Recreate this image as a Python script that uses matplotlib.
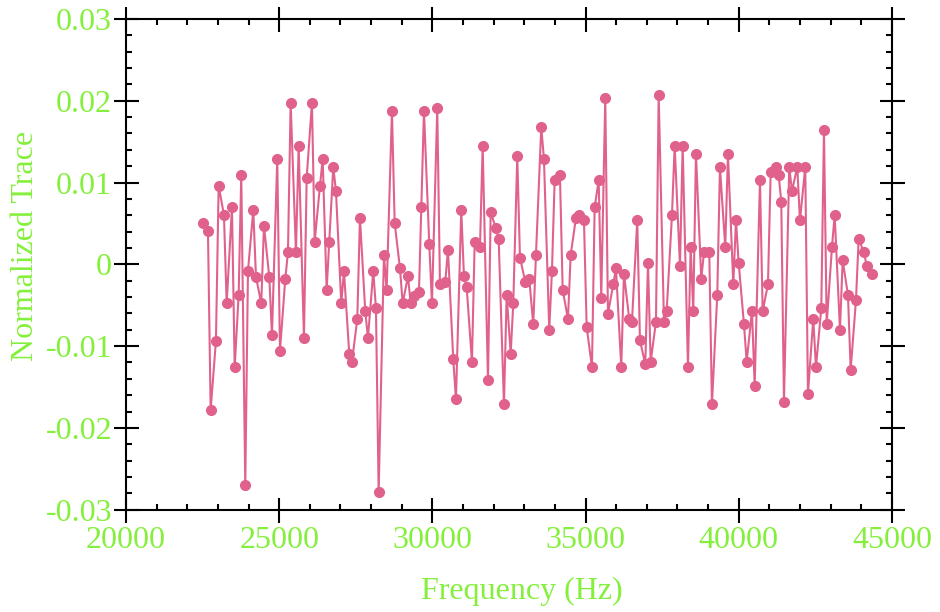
import matplotlib
matplotlib.use('Agg')
import matplotlib.pyplot as plt
from matplotlib.ticker import MultipleLocator, FuncFormatter

# frequencies (Hz) and normalized trace values
freq = [22503, 22676, 22764, 22937, 23025, 23198, 23287, 23460, 23548, 23678,
        23763, 23894, 23982, 24155, 24243, 24416, 24504, 24677, 24765, 24938,
        25026, 25199, 25287, 25375, 25548, 25636, 25809, 25898, 26070, 26159,
        26332, 26420, 26550, 26635, 26766, 26854, 27027, 27115, 27288, 27376,
        27549, 27637, 27810, 27898, 28071, 28159, 28247, 28420, 28508, 28681,
        28770, 28943, 29031, 29204, 29292, 29416, 29563, 29638, 29726, 29899,
        29987, 30160, 30248, 30421, 30509, 30682, 30770, 30943, 31031, 31120,
        31292, 31381, 31554, 31642, 31815, 31903, 32076, 32164, 32337, 32425,
        32556, 32641, 32771, 32859, 33032, 33163, 33293, 33381, 33554, 33642,
        33815, 33903, 33991, 34164, 34253, 34426, 34514, 34687, 34775, 34948,
        35036, 35209, 35297, 35428, 35512, 35643, 35731, 35904, 35992, 36165,
        36253, 36426, 36514, 36687, 36775, 36949, 37037, 37125, 37298, 37386,
        37559, 37647, 37820, 37908, 38081, 38169, 38342, 38430, 38515, 38603,
        38776, 38864, 39037, 39125, 39298, 39386, 39559, 39647, 39821, 39909,
        39997, 40170, 40258, 40431, 40519, 40692, 40780, 40953, 41041, 41214,
        41302, 41387, 41475, 41648, 41736, 41909, 41997, 42170, 42258, 42431,
        42520, 42693, 42781, 42869, 43042, 43130, 43303, 43391, 43564, 43652,
        43825, 43913, 44086, 44174, 44347]

trace = [0.00509, 0.00407, -0.01781, -0.00934, 0.00961, 0.00603, -0.00477, 0.00697, -0.01259, -0.00375,
         0.01092, -0.02694, -0.00082, 0.00664, -0.00152, -0.00477, 0.00472, -0.00152, -0.00864, 0.01287,
         -0.01064, -0.00180, 0.00147, 0.01972, 0.00147, 0.01446, -0.00901, 0.01059, 0.01972, 0.00276,
         0.00961, 0.01287, -0.00311, 0.00276, 0.01189, 0.00896, -0.00477, -0.00082, -0.01097, -0.01194,
         -0.00672, 0.00570, -0.00575, -0.00901, -0.00082, -0.00538, -0.02787, 0.00114, -0.00311, 0.01874,
         0.00505, -0.00049, -0.00477, -0.00147, -0.00477, -0.00388, -0.00333, 0.00700, 0.01874, 0.00245,
         -0.00477, 0.01907, -0.00245, -0.00213, 0.00178, -0.01161, -0.01650, 0.00667, -0.00147, -0.00281,
         -0.01191, 0.00276, 0.00211, 0.01450, -0.01418, 0.00636, 0.00440, 0.00309, -0.01712, -0.00375,
         -0.01093, -0.00477, 0.01320, 0.00081, -0.00213, -0.00180, -0.00734, 0.00114, 0.01678, 0.01287,
         -0.00800, -0.00082, 0.01027, 0.01092, -0.00311, -0.00669, 0.00114, 0.00570, 0.00603, 0.00538,
         -0.00767, -0.01256, 0.00700, 0.01027, -0.00408, 0.02037, -0.00604, -0.00245, -0.00049, -0.01256,
         -0.00115, -0.00669, -0.00702, 0.00538, -0.00929, -0.01223, 0.00016, -0.01191, -0.00702, 0.02070,
         -0.00702, -0.00571, 0.00603, 0.01450, -0.00017, 0.01450, -0.01256, 0.00211, -0.00571, 0.01352,
         -0.00180, 0.00147, 0.00147, -0.01712, -0.00375, 0.01189, 0.00211, 0.01352, -0.00245, 0.00538,
         0.00016, -0.00734, -0.01191, -0.00571, -0.01484, 0.01027, -0.00571, -0.00245, 0.01125, 0.01189,
         0.01092, 0.00765, -0.01680, 0.01189, 0.00896, 0.01189, 0.00538, 0.01189, -0.01582, -0.00669,
         -0.01256, -0.00538, 0.01645, -0.00734, 0.00211, 0.00603, -0.00800, 0.00049, -0.00375, -0.01289,
         -0.00440, 0.00309, 0.00147, -0.00017, -0.00115]

pink = '#e0628c'
green = '#84f03c'

plt.rcParams['font.family'] = ['Liberation Serif', 'DejaVu Serif']
plt.rcParams['axes.unicode_minus'] = False

fig = plt.figure(figsize=(9.4, 6.12), dpi=100)
ax = fig.add_axes([0.1340, 0.1672, 0.8149, 0.8018])

ax.plot(freq, trace, color=pink, lw=1.5, marker='o', ms=7, mec=pink, mfc=pink)

ax.set_xlim(20000, 45000)
ax.set_ylim(-0.03, 0.03)
ax.xaxis.set_major_locator(MultipleLocator(5000))
ax.xaxis.set_minor_locator(MultipleLocator(1000))
ax.yaxis.set_major_locator(MultipleLocator(0.01))
ax.yaxis.set_minor_locator(MultipleLocator(0.002))
ax.yaxis.set_major_formatter(FuncFormatter(lambda v, p: '0' if abs(v) < 1e-9 else '%.2f' % v))
ax.xaxis.set_major_formatter(FuncFormatter(lambda v, p: '%d' % v))

for s in ax.spines.values():
    s.set_linewidth(1.5)
ax.tick_params(which='major', direction='inout', length=18, width=1.5,
               top=True, right=True, labelsize=23, labelcolor=green)
ax.tick_params(which='minor', direction='in', length=4.5, width=1.5,
               top=True, right=True)
ax.tick_params(axis='x', which='major', pad=3)
ax.tick_params(axis='y', which='major', pad=1)

ax.set_xlabel('Frequency (Hz)', fontsize=23, color=green)
ax.set_ylabel('Normalized Trace', fontsize=23, color=green)
ax.xaxis.label.set_va('center')
ax.yaxis.label.set_va('center')
ax.xaxis.set_label_coords(0.5166, -0.1657)
ax.yaxis.set_label_coords(-0.131, 0.538)

fig.savefig('out.png', dpi=100)
